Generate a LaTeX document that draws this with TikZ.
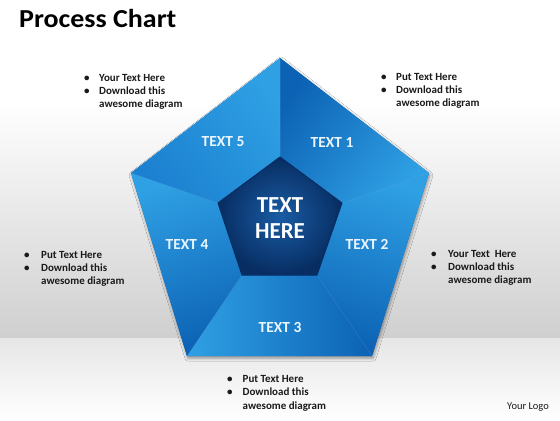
\documentclass[tikz,border=0pt]{standalone}
\usepackage{fontspec}
\setmainfont{Carlito}
\usetikzlibrary{shadows.blur}
\definecolor{lb}{HTML}{2FA0E4}
\definecolor{mb}{HTML}{1B80D0}
\definecolor{db}{HTML}{0C62B4}
\definecolor{cin}{HTML}{1A5CA4}
\definecolor{cout}{HTML}{072D62}
\definecolor{bgA}{HTML}{CFCFCF}
\definecolor{floorA}{HTML}{E6E6E6}
\definecolor{txt}{HTML}{1A1A1A}
\definecolor{lbl}{HTML}{EAF5FF}
\begin{document}
\begin{tikzpicture}[x=1bp,y=-1bp,
  bullets/.style={anchor=base west,inner sep=0pt,text=txt,font=\fontsize{11}{13.2}\selectfont\bfseries},
  seglabel/.style={inner sep=0pt,text=lbl,font=\fontsize{15.5}{18}\selectfont\bfseries},
  ridge/.style={draw=white,draw opacity=0.12,line width=0.5bp}]
\useasboundingbox (0,0) rectangle (560,420);
% background
\fill[white] (0,0) rectangle (560,101);
\shade[top color=white,bottom color=bgA] (0,100) rectangle (560,339);
\shade[top color=floorA,bottom color=white] (0,338) rectangle (560,420);
% coordinates
\coordinate (O1) at (280,58);
\coordinate (O2) at (429,173);
\coordinate (O3) at (372,356);
\coordinate (O4) at (187,356);
\coordinate (O5) at (131,173);
\coordinate (I1) at (280,157);
\coordinate (I2) at (342,203);
\coordinate (I3) at (317,275);
\coordinate (I4) at (242,275);
\coordinate (I5) at (218,203);
% shadow
\fill[db,blur shadow={shadow xshift=1bp,shadow yshift=-2bp,shadow blur radius=3bp,shadow opacity=40}]
  (O1)--(O2)--(O3)--(O4)--(O5)--cycle;
% segments
\shade[top color=db,bottom color=lb,shading angle=52] (O1)--(O2)--(I2)--(I1)--cycle;
\shade[top color=lb,bottom color=db,shading angle=-17] (O2)--(O3)--(I3)--(I2)--cycle;
\shade[top color=db,bottom color=lb,shading angle=270] (O3)--(O4)--(I4)--(I3)--cycle;
\shade[top color=db,bottom color=lb,shading angle=197] (O4)--(O5)--(I5)--(I4)--cycle;
\shade[top color=mb,bottom color=lb,shading angle=128] (O5)--(O1)--(I1)--(I5)--cycle;
\draw[ridge] (O1)--(I1) (O2)--(I2) (O3)--(I3) (O4)--(I4) (O5)--(I5);
% center
\shade[inner color=cin,outer color=cout] (I1)--(I2)--(I3)--(I4)--(I5)--cycle;
\draw[cout,line width=1bp] (I1)--(I2)--(I3)--(I4)--(I5)--cycle;
% labels
\node[seglabel] (t1) at (332,142) {TEXT 1};
\node[seglabel] (t2) at (367,244) {TEXT 2};
\node[seglabel] (t3) at (280,327) {TEXT 3};
\node[seglabel] (t4) at (187,244) {TEXT 4};
\node[seglabel] (t5) at (223,142) {TEXT 5};
\node[inner sep=0pt,text=white,align=center,font=\fontsize{23}{26}\selectfont\bfseries] (c) at (280,218) {TEXT\\HERE};
% title
\node[anchor=base west,inner sep=0pt,text=black,font=\fontsize{26}{30}\selectfont\bfseries] (title) at (19,27) {\scalebox{1.08}[1]{Process Chart}};
% bullet blocks
\node[bullets] (bUL) at (84,81.5) {\begin{tabular}[t]{@{}p{15bp}@{}l@{}}•&Your Text Here\\•&Download this\\&awesome diagram\end{tabular}};
\node[bullets] (bUR) at (381,80) {\begin{tabular}[t]{@{}p{15bp}@{}l@{}}•&Put Text Here\\•&Download this\\&awesome diagram\end{tabular}};
\node[bullets] (bL) at (24,258.3) {\begin{tabular}[t]{@{}p{17bp}@{}l@{}}•&Put Text Here\\•&Download this\\&awesome diagram\end{tabular}};
\node[bullets] (bR) at (431,257.3) {\begin{tabular}[t]{@{}p{17bp}@{}l@{}}•&Your Text\ \ Here\\•&Download this\\&awesome diagram\end{tabular}};
\node[bullets] (bB) at (227,382.7) {\begin{tabular}[t]{@{}p{15.5bp}@{}l@{}}•&Put Text Here\\•&Download this\\&awesome diagram\end{tabular}};
\node[anchor=base east,inner sep=0pt,text=txt,font=\fontsize{10.5}{13}\selectfont] (logo) at (549,409.3) {Your Logo};
\end{tikzpicture}
\end{document}
